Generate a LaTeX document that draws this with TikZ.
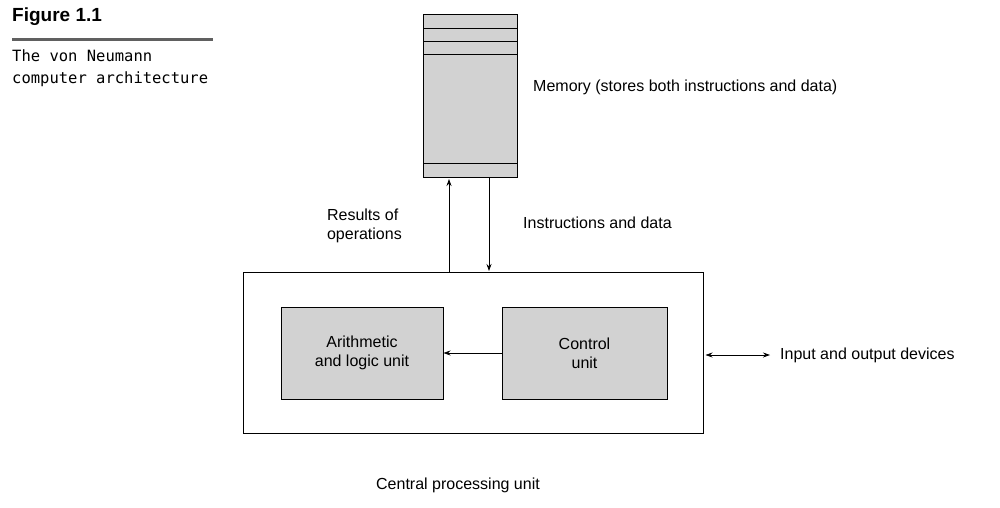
\documentclass[tikz,border=0pt]{standalone}
\usepackage{fontspec}
\setmainfont{Liberation Sans}
\newfontfamily\capfont{DejaVu Sans Mono}
\usetikzlibrary{arrows.meta}
\begin{document}
\begin{tikzpicture}[x=1pt,y=-1pt,
  box/.style={draw,line width=1pt,fill=gray!35},
  arr/.style={line width=0.8pt,-{Stealth[length=7pt,width=5pt]}},
  lbl/.style={font=\fontsize{16}{19}\selectfont,align=center,inner sep=0pt},
  captext/.style={font=\capfont\fontsize{15.5}{22}\selectfont,align=left,anchor=north west,inner sep=0pt}]
\useasboundingbox (0,0) rectangle (1000,508);
% caption
\node[anchor=north west,inner sep=0pt,font=\bfseries\fontsize{19}{22}\selectfont] (fig) at (12,8) {Figure 1.1};
\draw[line width=3pt,gray!75!black] (12,40) -- (213,40);
\node[captext] (captxt) at (12,50) {The von Neumann\\computer architecture};
% memory
\node[box,minimum width=94pt,minimum height=162pt,inner sep=0pt] (mem) at (470,96) {};
\draw[line width=1pt] (423,29) -- (517,29) (423,42) -- (517,42) (423,55) -- (517,55) (423,163) -- (517,163);
\node[lbl,anchor=west] (memt) at (533,87) {Memory (stores both instructions and data)};
% cpu
\node[draw,line width=1pt,minimum width=460pt,minimum height=161pt,inner sep=0pt] (cpu) at (473,352.5) {};
\node[box,minimum width=162pt,minimum height=92pt,lbl] (alu) at (362,353) {Arithmetic\\and logic unit};
\node[box,minimum width=165pt,minimum height=92pt,lbl] (cu) at (584.5,353) {Control\\unit};
\coordinate (io) at (770,355);
\node[lbl,anchor=west] (iot) at (780,355) {Input and output devices};
\node[lbl] (cput) at (458,485) {Central processing unit};
% connectors
\draw[arr] (cu.west) -- (alu.east);
\draw[line width=0.8pt,{Stealth[length=7pt,width=5pt]}-{Stealth[length=7pt,width=5pt]}] (cpu.east|-io) ++(2,0) -- (io);
\draw[arr] (449,272) -- (449,179);
\draw[arr] (489,178) -- (489,271);
\node[lbl,anchor=east,align=left] (res) at (402,226) {Results of\\operations};
\node[lbl,anchor=west] (ins) at (523,223) {Instructions and data};
\end{tikzpicture}
\end{document}
